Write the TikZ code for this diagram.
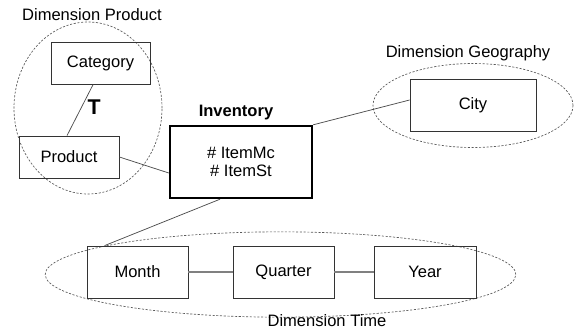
\documentclass[tikz,border=0pt]{standalone}
\usepackage{fontspec}
\setmainfont{Liberation Sans}
\usetikzlibrary{shapes.geometric}

\tikzset{
    entity/.style={draw=black!80,line width=0.6pt,inner sep=0,minimum height=31.5pt},
    fact/.style={draw=black,line width=1.8pt,inner sep=0,align=center},
    dimension/.style={ellipse,draw=black!65,dashed,dash pattern=on 1.6pt off 1.2pt,line width=0.5pt,inner sep=0},
    link/.style={draw=black!70,line width=0.55pt},
    hierlink/.style={draw=black!50,line width=1.1pt}
}

\begin{document}
\begin{tikzpicture}[x=0.75pt,y=-0.75pt,font=\fontsize{12.4}{15}\selectfont]
    \useasboundingbox (0,0) rectangle (578,333);
    \pgfmathsetmacro{\timerow}{272}
    % dimension areas
    \node[dimension,minimum width=111pt,minimum height=129pt] (dimprod) at (88,108) {};
    \node[dimension,minimum width=150pt,minimum height=63pt] (dimgeo) at (473,105.5) {};
    \node[dimension,minimum width=353pt,minimum height=64pt] (dimtime) at (280.5,274.5) {};
    \node (dimprodlabel) at (92,15) {Dimension Product};
    \node (dimgeolabel) at (468,53) {Dimension Geography};
    \node (dimtimelabel) at (327,321) {Dimension Time};
    % entities
    \node[entity,minimum width=74.25pt] (category) at (100.5,63) {Category};
    \node[entity,minimum width=75pt] (product) at (69,157) {Product};
    \node[fact,minimum width=106.5pt,minimum height=54pt] (inventory) at (241,162)
        {\# ItemMc\\[-1pt]\# ItemSt};
    \node[font=\fontsize{12.4}{15}\selectfont\bfseries] (inventorylabel) at (236,113) {Inventory};
    \node[entity,minimum width=94.5pt,minimum height=39pt] (city) at (473,105) {City};
    \node[entity,minimum width=75.75pt,minimum height=39pt] (month) at (137.5,\timerow) {Month};
    \node[entity,minimum width=75.75pt,minimum height=39pt] (quarter) at (283.5,\timerow) {Quarter};
    \node[entity,minimum width=76.5pt,minimum height=39pt] (year) at (425,\timerow) {Year};
    % connectors
    \draw[link] ([xshift=-5.5pt]category.south) -- ([xshift=-1.5pt]product.north)
        node[pos=0.45,right=1pt,font=\fontsize{16}{18}\selectfont\bfseries] (hier) {T};
    \draw[link] (product.east) -- ([yshift=-8.25pt]inventory.west);
    \draw[link] (inventory.north east) -- ([yshift=3.75pt]city.west);
    \draw[link] ([xshift=-15.75pt]inventory.south) -- ([xshift=13.5pt]month.north west);
    \draw[hierlink] (month) -- (quarter);
    \draw[hierlink] (quarter) -- (year);
\end{tikzpicture}
\end{document}
